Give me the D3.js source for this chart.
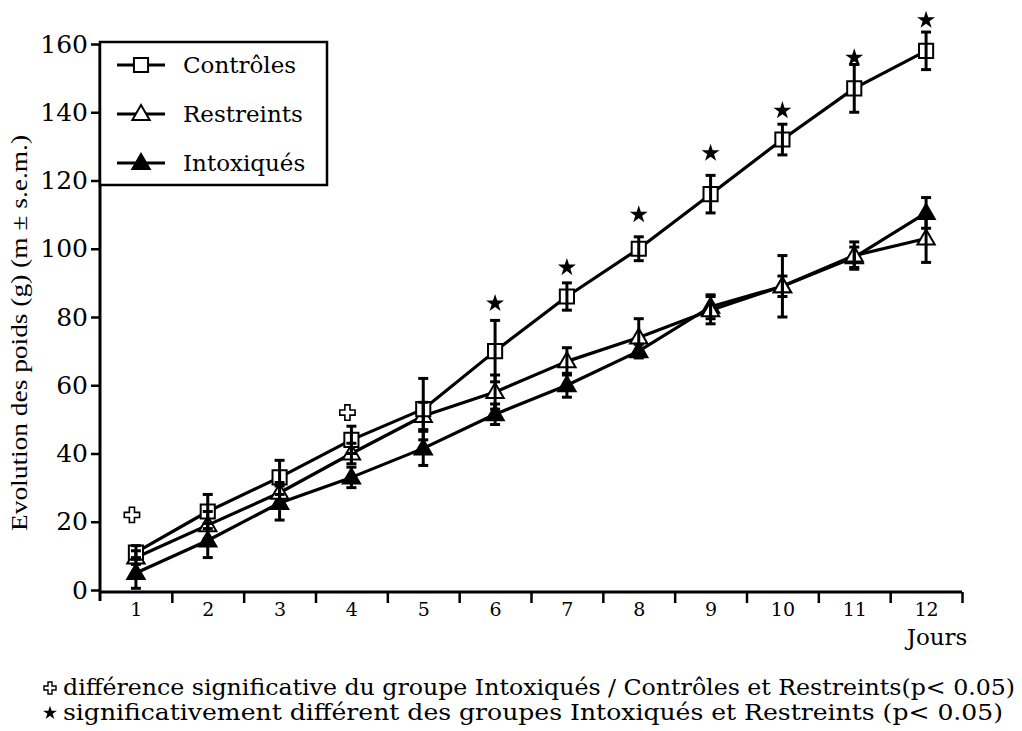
<!DOCTYPE html>
<html>
<head>
<meta charset="utf-8">
<script src="https://cdn.jsdelivr.net/npm/d3@7"></script>
<style>
  html, body { margin: 0; padding: 0; background: #fff; }
  svg { display: block; }
  text { fill: #000; }
</style>
</head>
<body>
<svg id="chart" width="1022" height="731"></svg>
<script>
// ---- data ----
const days = [1, 2, 3, 4, 5, 6, 7, 8, 9, 10, 11, 12];
const controles      = [11, 23, 33, 44, 53, 70, 86, 100, 116, 132, 147, 158];
const controlesErr   = [2, 5, 5, 4, 9, 9, 4, 3.5, 5.5, 4.5, 7, 5.5];
const restreints     = [9.5, 19, 28.5, 40, 51, 58, 67, 74, 82, 89, 98, 103];
const restreintsErr  = [2, 4, 3, 3, 4, 5, 4, 5.5, 4, 9, 4, 7];
const intoxiques     = [5, 14.5, 25.5, 33, 41.5, 51.5, 60, 70, 83, 89, 97.5, 110.5];
const intoxiquesErr  = [4.5, 5, 5, 3, 5, 3, 3.5, 2, 3.5, 3, 3, 4.5];
const starDays   = [6, 7, 8, 9, 10, 11, 12];
const starValues = [84, 94.5, 110, 128, 140.5, 156, 167];
const plusDays   = [1, 4];
const plusValues = [22, 52];
const yTicks = [0, 20, 40, 60, 80, 100, 120, 140, 160];
const seriesNames = ["Contrôles", "Restreints", "Intoxiqués"];
const yTitle = "Evolution des poids (g) (m ± s.e.m.)";
const xTitle = "Jours";
const note1 = "différence significative du groupe Intoxiqués / Contrôles et Restreints(p< 0.05)";
const note2 = "significativement différent des groupes  Intoxiqués et Restreints (p< 0.05)";

// ---- layout ----
const svg = d3.select("#chart");
const x = d3.scaleLinear().domain([0.5, 12.5]).range([100, 962]);
const y = d3.scaleLinear().domain([0, 160]).range([590, 44]);
const axisY = 592;

const series = [
  { name: seriesNames[0], vals: controles, err: controlesErr, type: "square" },
  { name: seriesNames[1], vals: restreints, err: restreintsErr, type: "triOpen" },
  { name: seriesNames[2], vals: intoxiques, err: intoxiquesErr, type: "triFill" }
];

// y axis
const yAxis = d3.axisLeft(y).tickValues(yTicks).tickSize(9).tickPadding(3).tickSizeOuter(0);
const gy = svg.append("g").attr("transform", "translate(100,0)").call(yAxis);
gy.select(".domain").attr("stroke-width", 3).attr("d", `M0,${y(160)}V${axisY + 9}`);
gy.selectAll(".tick line").attr("stroke-width", 2.5);
gy.selectAll(".tick text").attr("font-family", "DejaVu Serif").attr("font-size", 25).attr("fill", "#000");

// x axis: ticks at band edges, labels at days
const xAxis = d3.axisBottom(x).tickValues(d3.range(1.5, 13, 1)).tickSize(11).tickFormat("").tickSizeOuter(0);
const gx = svg.append("g").attr("transform", `translate(0,${axisY})`).call(xAxis);
gx.select(".domain").attr("stroke-width", 3).attr("d", `M${x(0.5)},0H${x(12.5)}`);
gx.selectAll(".tick line").attr("stroke-width", 2.5);
const xLab = d3.axisBottom(x).tickValues(days).tickSize(0).tickPadding(11).tickFormat(d3.format("d"));
const gxl = svg.append("g").attr("transform", `translate(0,${axisY})`).call(xLab);
gxl.select(".domain").remove();
gxl.selectAll(".tick text").attr("font-family", "DejaVu Serif").attr("font-size", 19).attr("fill", "#000");

svg.append("text").attr("x", x(12) + 11).attr("y", 645).attr("text-anchor", "middle")
  .attr("font-family", "DejaVu Serif").attr("font-size", 23).text(xTitle);

svg.append("text").attr("transform", `translate(27,${333}) rotate(-90)`)
  .attr("text-anchor", "middle").attr("font-family", "Liberation Serif").attr("font-size", 23)
  .attr("textLength", 396).attr("lengthAdjust", "spacingAndGlyphs").text(yTitle);

// lines
const line = d3.line().x((d, i) => x(days[i])).y(d => y(d));
series.forEach(s => {
  svg.append("path").datum(s.vals).attr("d", line).attr("fill", "none")
    .attr("stroke", "#000").attr("stroke-width", 3.2).attr("stroke-linejoin", "round");
});

// markers
const sqSym = d3.symbol().type(d3.symbolSquare).size(200);
const triSym = d3.symbol().type(d3.symbolTriangle).size(130);
function drawMarker(g, type, cx, cy) {
  if (type === "square") {
    g.append("path").attr("d", sqSym()).attr("transform", `translate(${cx},${cy})`)
      .attr("fill", "#fff").attr("stroke", "#000").attr("stroke-width", 2);
  } else {
    g.append("path").attr("d", triSym()).attr("transform", `translate(${cx},${cy + 1})`)
      .attr("fill", type === "triFill" ? "#000" : "#fff").attr("stroke", "#000").attr("stroke-width", 2);
  }
}
const mg = svg.append("g");
series.slice().reverse().forEach(s => {
  s.vals.forEach((v, i) => drawMarker(mg, s.type, x(days[i]), y(v)));
});

// error bars
const eg = svg.append("g").attr("stroke", "#000");
series.forEach(s => {
  s.vals.forEach((v, i) => {
    const cx = x(days[i]), e = s.err[i];
    eg.append("line").attr("x1", cx).attr("x2", cx).attr("y1", y(v - e)).attr("y2", y(v + e)).attr("stroke-width", 3);
    [v - e, v + e].forEach(w => {
      eg.append("line").attr("x1", cx - 5).attr("x2", cx + 5).attr("y1", y(w)).attr("y2", y(w)).attr("stroke-width", 3);
    });
  });
});

// significance markers
const starSym = d3.symbol().type(d3.symbolStar).size(100);
starDays.forEach((d, i) => {
  svg.append("path").attr("d", starSym()).attr("transform", `translate(${x(d)},${y(starValues[i])})`).attr("fill", "#000");
});
const crossSym = d3.symbol().type(d3.symbolCross).size(130);
plusDays.forEach((d, i) => {
  svg.append("path").attr("d", crossSym()).attr("transform", `translate(${x(d) - 4},${y(plusValues[i])})`)
    .attr("fill", "#fff").attr("stroke", "#000").attr("stroke-width", 1.6);
});

// legend
const lg = svg.append("g");
lg.append("rect").attr("x", 100).attr("y", 42).attr("width", 227).attr("height", 143)
  .attr("fill", "#fff").attr("stroke", "#000").attr("stroke-width", 2.5);
series.forEach((s, i) => {
  const ly = 65 + i * 49;
  lg.append("line").attr("x1", 117).attr("x2", 165).attr("y1", ly).attr("y2", ly).attr("stroke", "#000").attr("stroke-width", 3);
  drawMarker(lg, s.type, 141, ly);
  lg.append("text").attr("x", 183).attr("y", ly + 8).attr("font-family", "DejaVu Serif").attr("font-size", 23).text(s.name);
});

// footnotes
const noteFont = "'DejaVu Serif Condensed', 'DejaVu Serif', serif";
svg.append("path").attr("d", crossSym.size(80)()).attr("transform", "translate(50,688)")
  .attr("fill", "#fff").attr("stroke", "#000").attr("stroke-width", 1.4);
svg.append("text").attr("x", 63).attr("y", 695).attr("font-family", noteFont).attr("font-stretch", "condensed").attr("font-size", 22)
  .attr("textLength", 952).attr("lengthAdjust", "spacingAndGlyphs").text(note1);
svg.append("path").attr("d", starSym.size(60)()).attr("transform", "translate(50,713)").attr("fill", "#000");
svg.append("text").attr("x", 63).attr("y", 720).attr("font-family", noteFont).attr("font-stretch", "condensed").attr("font-size", 22)
  .attr("textLength", 940).attr("lengthAdjust", "spacingAndGlyphs").text(note2);
</script>
</body>
</html>
